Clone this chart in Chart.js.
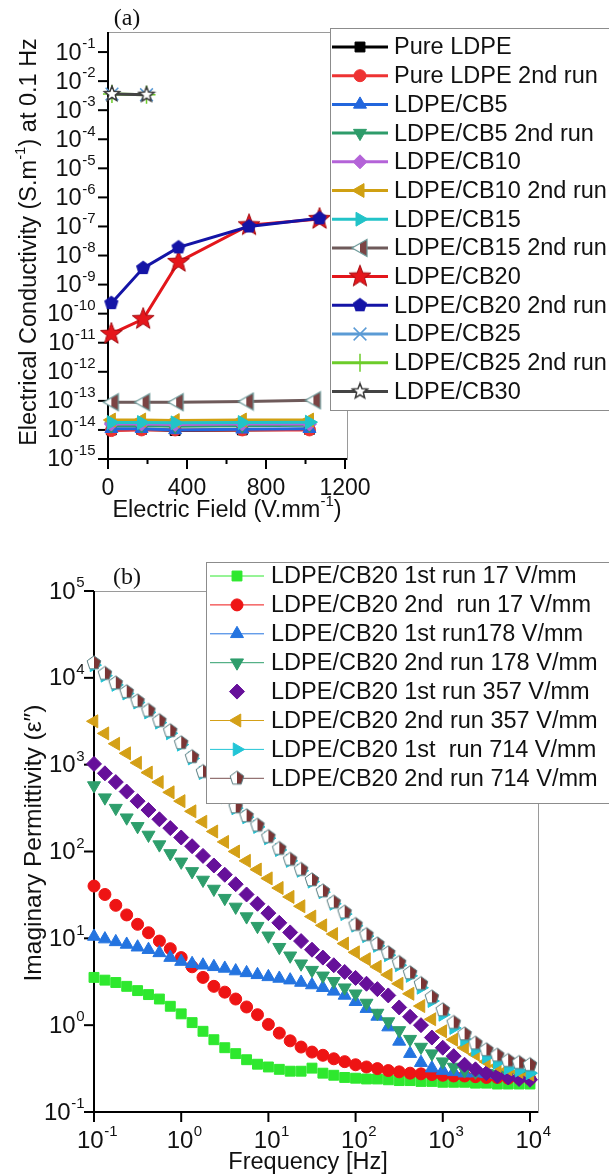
<!DOCTYPE html>
<html>
<head>
<meta charset="utf-8">
<script src="https://cdn.jsdelivr.net/npm/chart.js@4.4.1/dist/chart.umd.min.js"></script>
<style>
html, body { margin: 0; padding: 0; background: #fff; }
#wrap { position: relative; width: 609px; height: 1176px; overflow: hidden; }
canvas { position: absolute; left: 0; top: 0; }
</style>
</head>
<body>
<div id="wrap">
<canvas id="chartA" width="609" height="1176"></canvas>
<canvas id="chartB" width="609" height="1176"></canvas>
</div>
<script>
//Painel (a): condutividade a 0.1 Hz x campo elétrico (V/mm)
const campoBase = [17, 170, 340, 680, 1020]
const campoCB15b = [17, 175, 345, 700, 1040]
const campoCB20 = [17, 178, 357, 714, 1071]
const campoCB25 = [20, 195]

const condPure = [1.0e-14, 1.05e-14, 0.95e-14, 1.0e-14, 1.05e-14]
const condPure2 = [0.95e-14, 1.0e-14, 1.0e-14, 1.0e-14, 1.0e-14]
const condCB5 = [1.1e-14, 1.1e-14, 1.0e-14, 1.05e-14, 1.1e-14]
const condCB5b = [1.4e-14, 1.4e-14, 1.35e-14, 1.4e-14, 1.45e-14]
const condCB10 = [1.6e-14, 1.6e-14, 1.55e-14, 1.6e-14, 1.6e-14]
const condCB10b = [2.2e-14, 2.2e-14, 2.1e-14, 2.2e-14, 2.2e-14]
const condCB15 = [1.8e-14, 1.8e-14, 1.75e-14, 1.8e-14, 1.85e-14]
const condCB15b = [9e-14, 9e-14, 9e-14, 9.5e-14, 1.05e-13]
const condCB20 = [2.0e-11, 6.5e-11, 6.0e-9, 1.1e-7, 1.8e-7]
const condCB20b = [2.3e-10, 3.7e-9, 1.9e-8, 1.0e-7, 1.9e-7]
const condCB25 = [3.6e-3, 3.4e-3]
const condCB25b = [3.6e-3, 3.4e-3]
const condCB30 = [3.6e-3, 3.4e-3]

const ticksCampo = [0, 400, 800, 1200]
const ticksCampoMenor = [200, 600, 1000]
const expCond = [-15, -14, -13, -12, -11, -10, -9, -8, -7, -6, -5, -4, -3, -2, -1]

//Painel (b): permissividade imaginária x frequência (Hz)
const freq = [0.1, 0.1334, 0.1778, 0.2371, 0.3162, 0.4217, 0.5623, 0.7499, 1, 1.334, 1.778, 2.371, 3.162, 4.217, 5.623, 7.499,
    10, 13.34, 17.78, 23.71, 31.62, 42.17, 56.23, 74.99, 100, 133.4, 177.8, 237.1, 316.2, 421.7, 562.3, 749.9,
    1000, 1334, 1778, 2371, 3162, 4217, 5623, 7499, 10000]
const eps17a = [3.55, 3.3, 3.1, 2.8, 2.5, 2.25, 2.0, 1.65, 1.35, 1.07, 0.85, 0.68, 0.55, 0.47, 0.40, 0.355, 0.33, 0.31, 0.295, 0.295,
    0.32, 0.28, 0.265, 0.25, 0.245, 0.24, 0.24, 0.235, 0.23, 0.23, 0.225, 0.225, 0.22, 0.22, 0.22, 0.215, 0.215, 0.21, 0.21, 0.21, 0.21]
const eps17b = [40, 32, 24, 18.6, 14.5, 11.6, 9.3, 7.6, 6.0, 4.7, 3.55, 2.8, 2.4, 2.0, 1.62, 1.32, 1.02, 0.81, 0.66, 0.56,
    0.49, 0.45, 0.41, 0.38, 0.35, 0.33, 0.316, 0.30, 0.29, 0.28, 0.275, 0.27, 0.265, 0.26, 0.26, 0.255, 0.25, 0.25, 0.245, 0.245, 0.24]
const eps178a = [10.5, 9.8, 9.1, 8.5, 7.9, 7.4, 6.8, 6.0, 5.4, 5.1, 4.9, 4.7, 4.5, 4.2, 4.0, 3.8, 3.6, 3.45, 3.3, 3.1,
    2.9, 2.7, 2.45, 2.2, 1.86, 1.55, 1.26, 0.95, 0.65, 0.47, 0.37, 0.32, 0.30, 0.29, 0.28, 0.28, 0.275, 0.27, 0.27, 0.265, 0.26]
const eps178b = [575, 417, 316, 245, 195, 155, 120, 95, 76, 59, 47, 37, 29, 23, 17.8, 13.8, 10.7, 7.9, 6.3, 5.1,
    4.3, 3.7, 3.2, 2.7, 2.3, 1.8, 1.38, 1.1, 0.87, 0.69, 0.56, 0.47, 0.38, 0.33, 0.30, 0.29, 0.28, 0.275, 0.27, 0.265, 0.26]
const eps357a = [1020, 795, 630, 490, 380, 300, 235, 186, 145, 115, 89, 69, 54, 42, 32, 25, 19.5, 15.1, 11.7, 9.3,
    7.4, 6.0, 4.9, 4.1, 3.5, 3.0, 2.6, 2.2, 1.6, 1.25, 1.0, 0.72, 0.55, 0.44, 0.35, 0.31, 0.28, 0.26, 0.25, 0.24, 0.235]
const eps357b = [3160, 2290, 1740, 1350, 1050, 810, 630, 480, 380, 290, 220, 170, 129, 100, 78, 62, 49, 38, 30, 23.4,
    17.8, 14.1, 11.2, 8.7, 6.9, 5.75, 4.7, 3.8, 3.0, 2.3, 1.66, 1.17, 0.85, 0.68, 0.55, 0.46, 0.38, 0.34, 0.31, 0.29, 0.27]
const eps714a = [14000, 10600, 8300, 6600, 5200, 4000, 3050, 2300, 1700, 1180, 800, 580, 420, 315, 248, 192, 142, 104, 78, 60,
    45, 34, 25, 19, 14, 10.6, 8.2, 6.4, 4.9, 3.7, 2.7, 1.9, 1.32, 0.93, 0.68, 0.52, 0.43, 0.37, 0.32, 0.30, 0.28]
const eps714b = [14800, 11200, 8700, 6900, 5400, 4200, 3200, 2450, 1780, 1230, 830, 600, 435, 325, 257, 200, 148, 108, 81, 62,
    47, 35, 26, 20, 14.4, 11, 8.6, 6.8, 5.25, 4.0, 3.0, 2.1, 1.5, 1.07, 0.79, 0.62, 0.52, 0.45, 0.39, 0.37, 0.35]

const expFreq = [-1, 0, 1, 2, 3, 4]
const expEps = [-1, 0, 1, 2, 3, 4, 5]

const fonte = '"Liberation Sans", Arial, sans-serif'
const fonteSerif = '"Liberation Serif", "Times New Roman", serif'

//Marcadores desenhados à mão (estrela, pentágono, meio preenchidos)
const marcador = (tam, desenho) => {
    const c = document.createElement('canvas')
    c.width = tam
    c.height = tam
    desenho(c.getContext('2d'), tam / 2)
    return c
}
const poligono = (g, c, r, n, r2) => {
    const pts = r2 ? n * 2 : n
    g.beginPath()
    for (let i = 0; i < pts; i++) {
        const a = -Math.PI / 2 + i * 2 * Math.PI / pts
        const rr = r2 && i % 2 ? r2 : r
        g.lineTo(c + rr * Math.cos(a), c + rr * Math.sin(a))
    }
    g.closePath()
}
const estrelaVermelha = marcador(26, (g, c) => {
    poligono(g, c, 11.5, 5, 4.8)
    g.fillStyle = '#e5161b'
    g.fill()
    g.strokeStyle = '#a30d12'
    g.lineWidth = 1
    g.stroke()
})
const pentagonoAzul = marcador(18, (g, c) => {
    poligono(g, c, 7.5, 5)
    g.fillStyle = '#1414a6'
    g.fill()
})
const estrelaAberta = marcador(20, (g, c) => {
    poligono(g, c, 8, 5, 3.5)
    g.fillStyle = '#fff'
    g.fill()
    g.strokeStyle = '#3a3a3a'
    g.lineWidth = 1.5
    g.stroke()
})
const trianguloMeio = marcador(20, (g, c) => {
    g.beginPath()
    g.moveTo(c - 8, c)
    g.lineTo(c + 7, c - 8.5)
    g.lineTo(c + 7, c + 8.5)
    g.closePath()
    g.fillStyle = '#fff'
    g.fill()
    g.save()
    g.clip()
    g.fillStyle = '#7b4444'
    g.fillRect(c, 0, c, 2 * c)
    g.restore()
    g.strokeStyle = '#6a9898'
    g.lineWidth = 1.2
    g.stroke()
})
const pentagonoMeio = marcador(18, (g, c) => {
    poligono(g, c, 7.2, 5)
    g.fillStyle = '#fff'
    g.fill()
    g.save()
    g.clip()
    g.fillStyle = '#7a3535'
    g.fillRect(c, 0, c, 2 * c)
    g.restore()
    g.strokeStyle = '#587c80'
    g.lineWidth = 1
    g.stroke()
})

//Construção das séries
const serie = (label, xs, ys, cor, estilo, extra) => ({
    label,
    data: xs.map((x, i) => ({x, y: ys[i]})),
    borderColor: cor,
    backgroundColor: cor,
    pointBackgroundColor: cor,
    pointBorderColor: cor,
    pointStyle: estilo,
    pointRadius: 6,
    pointHoverRadius: 6,
    pointBorderWidth: 1,
    pointRotation: 0,
    borderWidth: 3,
    showLine: true,
    clip: false,
    ...extra
})

const seriesA = [
    serie('Pure LDPE', campoBase, condPure, '#000000', 'rect', {pointRadius: 7}),
    serie('Pure LDPE 2nd run', campoBase, condPure2, '#ee3333', 'circle'),
    serie('LDPE/CB5', campoBase, condCB5, '#2266dd', 'triangle', {pointRadius: 7.5}),
    serie('LDPE/CB5 2nd run', campoBase, condCB5b, '#2e9c6a', 'triangle', {pointRadius: 7.5, pointRotation: 180}),
    serie('LDPE/CB10', campoBase, condCB10, '#b463d8', 'rectRot', {pointRadius: 7}),
    serie('LDPE/CB10 2nd run', campoBase, condCB10b, '#d0a012', 'triangle', {pointRadius: 8, pointRotation: 270}),
    serie('LDPE/CB15', campoBase, condCB15, '#22c3c8', 'triangle', {pointRadius: 8, pointRotation: 90}),
    serie('LDPE/CB15 2nd run', campoCB15b, condCB15b, '#6e5a5a', trianguloMeio),
    serie('LDPE/CB20', campoCB20, condCB20, '#e3161b', estrelaVermelha),
    serie('LDPE/CB20 2nd run', campoCB20, condCB20b, '#1414a6', pentagonoAzul),
    serie('LDPE/CB25', campoCB25, condCB25, '#5b9bd5', 'crossRot', {pointRadius: 9, pointBorderWidth: 1.5, borderWidth: 2}),
    serie('LDPE/CB25 2nd run', campoCB25, condCB25b, '#6ccc2a', 'cross', {pointRadius: 9, pointBorderWidth: 1.5}),
    serie('LDPE/CB30', campoCB25, condCB30, '#444444', estrelaAberta)
].map((d, i) => ({...d, order: -i}))

const pontos = (label, ys, cor, estilo, extra) => serie(label, freq, ys, cor, estilo, {showLine: false, pointRadius: 6.5, ...extra})
const seriesB = [
    pontos('LDPE/CB20 1st run 17 V/mm', eps17a, '#2ee82e', 'rect', {pointRadius: 7}),
    pontos('LDPE/CB20 2nd  run 17 V/mm', eps17b, '#ee1414', 'circle', {pointRadius: 6}),
    pontos('LDPE/CB20 1st run178 V/mm', eps178a, '#2474e0', 'triangle', {pointRadius: 7.5}),
    pontos('LDPE/CB20 2nd run 178 V/mm', eps178b, '#2e9e6c', 'triangle', {pointRadius: 7.5, pointRotation: 180}),
    pontos('LDPE/CB20 1st run 357 V/mm', eps357a, '#66109a', 'rectRot', {pointRadius: 7.5, linhaLegenda: false}),
    pontos('LDPE/CB20 2nd run 357 V/mm', eps357b, '#d4a017', 'triangle', {pointRadius: 7.5, pointRotation: 270}),
    pontos('LDPE/CB20 1st  run 714 V/mm', eps714a, '#22c5d6', 'triangle', {pointRadius: 7.5, pointRotation: 90}),
    pontos('LDPE/CB20 2nd run 714 V/mm', eps714b, '#7a5050', pentagonoMeio)
].map((d, i) => ({...d, order: -i}))

//Funções de desenho dos eixos
const potencia = (ctx, exp, x, y, alinha, tam) => {
    const pequeno = Math.round(tam * 0.64)
    ctx.font = tam + 'px ' + fonte
    const w1 = ctx.measureText('10').width
    ctx.font = pequeno + 'px ' + fonte
    const w2 = ctx.measureText(String(exp)).width
    const x0 = alinha === 'right' ? x - w1 - w2 : x - (w1 + w2) / 2
    ctx.textAlign = 'left'
    ctx.textBaseline = 'middle'
    ctx.font = tam + 'px ' + fonte
    ctx.fillText('10', x0, y)
    ctx.textBaseline = 'alphabetic'
    ctx.font = pequeno + 'px ' + fonte
    ctx.fillText(String(exp), x0 + w1 + 0.5, y - tam * 0.2)
}
const textoRico = (ctx, partes, x, y, tam) => {
    const pequeno = Math.round(tam * 0.64)
    let total = 0
    partes.forEach(p => {
        ctx.font = (p.sup ? pequeno : tam) + 'px ' + fonte
        total += ctx.measureText(p.t).width
    })
    let cx = x - total / 2
    ctx.textAlign = 'left'
    partes.forEach(p => {
        ctx.font = (p.sup ? pequeno : tam) + 'px ' + fonte
        ctx.textBaseline = p.sup ? 'alphabetic' : 'middle'
        ctx.fillText(p.t, cx, p.sup ? y - tam * 0.2 : y)
        cx += ctx.measureText(p.t).width
    })
}
const linha = (ctx, x0, y0, x1, y1) => {
    ctx.beginPath()
    ctx.moveTo(x0, y0)
    ctx.lineTo(x1, y1)
    ctx.stroke()
}
const moldura = (ctx, a) => {
    ctx.strokeStyle = '#9a9a9a'
    ctx.lineWidth = 1
    ctx.strokeRect(a.left + 0.5, a.top + 0.5, a.right - a.left, a.bottom - a.top)
    ctx.strokeStyle = '#000'
    ctx.lineWidth = 2
    ctx.beginPath()
    ctx.moveTo(a.left, a.top)
    ctx.lineTo(a.left, a.bottom)
    ctx.lineTo(a.right, a.bottom)
    ctx.stroke()
}
const legenda = (chart, caixa, lx0, lx1, mx, tx, y0, passo, larg) => {
    const ctx = chart.ctx
    ctx.save()
    ctx.fillStyle = '#fff'
    ctx.fillRect(caixa.x, caixa.y, caixa.w, caixa.h)
    ctx.strokeStyle = '#8c8c8c'
    ctx.lineWidth = 1
    ctx.strokeRect(caixa.x + 0.5, caixa.y + 0.5, caixa.w, caixa.h)
    chart.data.datasets.forEach((ds, i) => {
        const y = y0 + i * passo
        if (ds.linhaLegenda !== false) {
            ctx.strokeStyle = ds.borderColor
            ctx.lineWidth = larg
            linha(ctx, lx0, y, lx1, y)
        }
        ctx.fillStyle = ds.pointBackgroundColor
        ctx.strokeStyle = ds.pointBorderColor
        ctx.lineWidth = ds.pointBorderWidth
        Chart.helpers.drawPoint(ctx, {pointStyle: ds.pointStyle, rotation: ds.pointRotation, radius: ds.pointRadius, borderWidth: ds.pointBorderWidth}, mx, y)
        ctx.fillStyle = '#111'
        ctx.font = '23.5px ' + fonte
        ctx.textAlign = 'left'
        ctx.textBaseline = 'middle'
        ctx.fillText(ds.label, tx, y + 1)
    })
    ctx.restore()
}

const eixosA = {
    id: 'eixosA',
    beforeDatasetsDraw(chart) {
        const {ctx, chartArea: a, scales: {x, y}} = chart
        ctx.save()
        moldura(ctx, a)
        ctx.fillStyle = '#111'
        ctx.strokeStyle = '#000'
        ctx.lineWidth = 2
        ticksCampo.forEach(v => {
            const px = x.getPixelForValue(v)
            linha(ctx, px, a.bottom, px, a.bottom + 10)
            ctx.font = '23px ' + fonte
            ctx.textAlign = 'center'
            ctx.textBaseline = 'middle'
            ctx.fillText(String(v), px, 489)
        })
        ticksCampoMenor.forEach(v => {
            const px = x.getPixelForValue(v)
            linha(ctx, px, a.bottom, px, a.bottom + 5)
        })
        expCond.forEach(e => {
            const py = y.getPixelForValue(Math.pow(10, e))
            linha(ctx, a.left - 10, py, a.left, py)
            potencia(ctx, e, 95, py + 1, 'right', 23.5)
        })
        textoRico(ctx, [{t: 'Electric Field (V.mm'}, {t: '-1', sup: true}, {t: ')'}], 227, 511, 23.5)
        ctx.save()
        ctx.translate(30, 242)
        ctx.rotate(-Math.PI / 2)
        textoRico(ctx, [{t: 'Electrical Conductivity (S.m'}, {t: '-1', sup: true}, {t: ') at 0.1 Hz'}], 0, 0, 23.5)
        ctx.restore()
        ctx.font = '24px ' + fonteSerif
        ctx.textAlign = 'center'
        ctx.textBaseline = 'middle'
        ctx.fillText('(a)', 127, 19)
        ctx.restore()
    },
    afterDraw(chart) {
        legenda(chart, {x: 330, y: 28, w: 300, h: 382}, 332, 388, 360, 394, 47, 28.7, 3)
    }
}

const eixosB = {
    id: 'eixosB',
    beforeDatasetsDraw(chart) {
        const {ctx, chartArea: a, scales: {x, y}} = chart
        ctx.save()
        moldura(ctx, a)
        ctx.fillStyle = '#111'
        ctx.strokeStyle = '#000'
        ctx.lineWidth = 2
        expFreq.forEach(e => {
            const px = x.getPixelForValue(Math.pow(10, e))
            linha(ctx, px, a.bottom, px, a.bottom + 10)
            potencia(ctx, e, px + 3, 1141, 'center', 24)
        })
        expEps.forEach(e => {
            const py = y.getPixelForValue(Math.pow(10, e))
            linha(ctx, a.left - 10, py, a.left, py)
            potencia(ctx, e, 84, py + 1, 'right', 24)
        })
        textoRico(ctx, [{t: 'Frequency [Hz]'}], 308, 1163, 23.5)
        ctx.save()
        ctx.translate(34, 843)
        ctx.rotate(-Math.PI / 2)
        textoRico(ctx, [{t: 'Imaginary Permittivity (ε″)'}], 0, 0, 24.5)
        ctx.restore()
        ctx.font = '24px ' + fonteSerif
        ctx.textAlign = 'center'
        ctx.textBaseline = 'middle'
        ctx.fillText('(b)', 127, 578)
        ctx.restore()
    },
    afterDraw(chart) {
        legenda(chart, {x: 206, y: 562, w: 420, h: 241}, 210, 264, 237, 271, 576, 28.9, 1)
    }
}

//Construção dos gráficos
const opcoes = (padding, escalas) => ({
    responsive: false,
    animation: false,
    events: [],
    layout: {padding},
    plugins: {legend: {display: false}, tooltip: {enabled: false}},
    scales: escalas
})

new Chart(document.getElementById('chartA'), {
    type: 'scatter',
    data: {datasets: seriesA},
    options: opcoes({left: 108, top: 32, right: 262, bottom: 717}, {
        x: {type: 'linear', min: 0, max: 1210, display: false},
        y: {type: 'logarithmic', min: 1e-15, max: 0.49, display: false}
    }),
    plugins: [eixosA]
})

new Chart(document.getElementById('chartB'), {
    type: 'scatter',
    data: {datasets: seriesB},
    options: opcoes({left: 94, top: 591, right: 71, bottom: 64}, {
        x: {type: 'logarithmic', min: 0.1, max: 12360, display: false},
        y: {type: 'logarithmic', min: 0.1, max: 1e5, display: false}
    }),
    plugins: [eixosB]
})
</script>
</body>
</html>
